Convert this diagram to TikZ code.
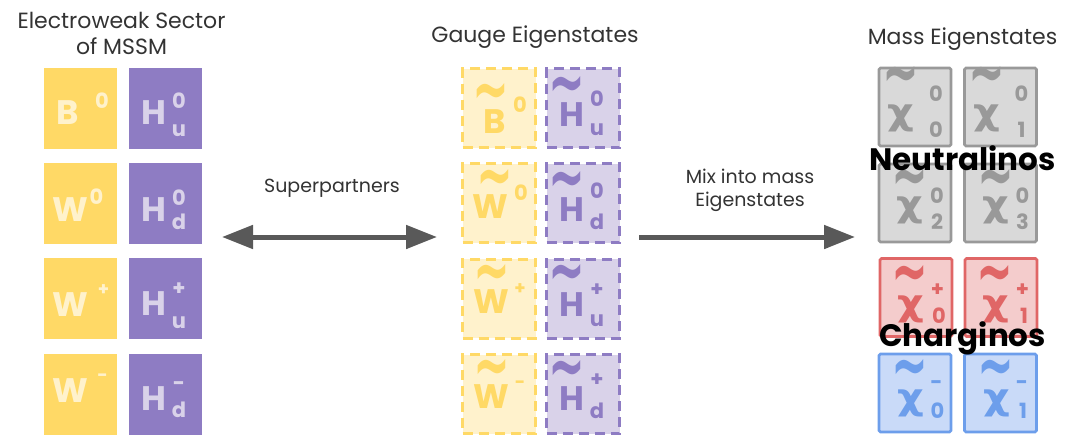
\documentclass[tikz,border=0pt]{standalone}
\usepackage{graphicx}
\usepackage{fontspec}
\setmainfont{Poppins}
\newfontfamily\greekfont{DejaVu Sans}
\usetikzlibrary{arrows.meta}

\definecolor{ylw}{HTML}{FFD966}
\definecolor{ylwL}{HTML}{FFF2CC}
\definecolor{pur}{HTML}{8E7CC3}
\definecolor{purL}{HTML}{D9D2E9}
\definecolor{gry}{HTML}{999999}
\definecolor{gryL}{HTML}{D9D9D9}
\definecolor{rd}{HTML}{E06666}
\definecolor{rdL}{HTML}{F4CCCC}
\definecolor{bl}{HTML}{6D9EEB}
\definecolor{blL}{HTML}{C9DAF8}
\definecolor{ink}{HTML}{333333}
\definecolor{arrowgrey}{HTML}{595959}

% glyph node placed relative to the centre of a box node
\newcommand\gl[5]{\node[#1] (#2) at ([shift={#3}]#4.center) {#5};}
% the wave sign set over a symbol, stretched upwards
\newcommand\wave{\scalebox{1}[1.7]{\char"7E}}
% a wide chi
\newcommand\wchi{\scalebox{1.15}[1]{χ}}

\tikzset{bigtip/.tip={Triangle[length=31pt,width=23pt]}}

\begin{document}
\begin{tikzpicture}[x=1pt,y=-1pt,
  solidbox/.style={minimum width=73pt, minimum height=81pt, inner sep=0pt, outer sep=0pt},
  sY/.style={solidbox, fill=ylw},
  sP/.style={solidbox, fill=pur},
  gauge/.style={minimum width=73pt, minimum height=79pt, inner sep=0pt, line width=3pt,
                dash pattern=on 10pt off 6pt},
  gY/.style={gauge, fill=ylwL, draw=ylw},
  gP/.style={gauge, fill=purL, draw=pur},
  mass/.style={minimum width=72pt, minimum height=78pt, inner sep=0pt, line width=2.6pt,
               rounded corners=1.5pt},
  mG/.style={mass, fill=gryL, draw=gry},
  mR/.style={mass, fill=rdL, draw=rd},
  mB/.style={mass, fill=blL, draw=bl},
  big/.style={font=\fontsize{34}{34}\selectfont\bfseries, inner sep=0pt},
  scr/.style={font=\fontsize{21}{21}\selectfont\bfseries, inner sep=0pt},
  tiny/.style={font=\fontsize{18}{18}\selectfont\bfseries, inner sep=0pt},
  tld/.style={font=\greekfont\fontsize{44}{44}\selectfont\bfseries, inner sep=0pt},
  chi/.style={font=\greekfont\fontsize{36}{36}\selectfont\bfseries, inner sep=0pt},
  title/.style={font=\fontsize{22}{26}\selectfont, text=ink, align=center, inner sep=0pt},
  caption/.style={font=\fontsize{19}{23}\selectfont, text=ink, align=center, inner sep=0pt},
  group/.style={font=\fontsize{31}{31}\selectfont\bfseries, text=black, inner sep=0pt},
  conn/.style={line width=5pt, draw=arrowgrey}
]
\useasboundingbox (0,0) rectangle (1067,444);

% ---------- titles ----------
\node[title] (tEW) at (121.5,33) {Electroweak Sector\\of MSSM};
\node[title, anchor=base] (tGauge) at (535,42) {Gauge Eigenstates};
\node[title, anchor=base] (tMass) at (962.5,45) {Mass Eigenstates};

% ---------- electroweak sector (solid boxes) ----------
\node[sY] (lB)  at (80.5,108.5) {};
\node[sY] (lW0) at (80.5,203.5) {};
\node[sY] (lWp) at (80.5,298.5) {};
\node[sY] (lWm) at (80.5,394) {};
\node[sP] (lHu0) at (165,108.5) {};
\node[sP] (lHd0) at (165,203.5) {};
\node[sP] (lHup) at (165,298.5) {};
\node[sP] (lHdm) at (165,394) {};

\tikzset{ty/.style={text=ylwL}, tp/.style={text=purL}}
\gl{big,ty}{lB-m}{(-12.5,4.5)}{lB}{B}
\gl{scr,ty}{lB-s}{(21.5,-7.5)}{lB}{0}
\gl{big,ty}{lW0-m}{(-10.5,6)}{lW0}{W}
\gl{scr,ty}{lW0-s}{(16,-7)}{lW0}{0}
\gl{big,ty}{lWp-m}{(-10.5,6)}{lWp}{W}
\gl{tiny,ty}{lWp-s}{(23,-8.5)}{lWp}{+}
\gl{big,ty}{lWm-m}{(-10.5,-3)}{lWm}{W}
\gl{tiny,ty}{lWm-s}{(22,-16)}{lWm}{-}

\gl{big,tp}{lHu0-m}{(-11,4)}{lHu0}{H}
\gl{scr,tp}{lHu0-s}{(14,-7.5)}{lHu0}{0}
\gl{scr,tp}{lHu0-b}{(14,22.5)}{lHu0}{u}
\gl{big,tp}{lHd0-m}{(-11,6)}{lHd0}{H}
\gl{scr,tp}{lHd0-s}{(14,-6)}{lHd0}{0}
\gl{scr,tp}{lHd0-b}{(14,18)}{lHd0}{d}
\gl{big,tp}{lHup-m}{(-11,5.5)}{lHup}{H}
\gl{scr,tp}{lHup-s}{(14,-9)}{lHup}{+}
\gl{scr,tp}{lHup-b}{(14,24)}{lHup}{u}
\gl{big,tp}{lHdm-m}{(-11,5)}{lHdm}{H}
\gl{scr,tp}{lHdm-s}{(14,-8)}{lHdm}{-}
\gl{scr,tp}{lHdm-b}{(14,16)}{lHdm}{d}

% ---------- gauge eigenstates (dashed boxes) ----------
\node[gY] (gB)  at (499,108) {};
\node[gY] (gW0) at (499,203) {};
\node[gY] (gWp) at (499,298.5) {};
\node[gY] (gWm) at (499,394) {};
\node[gP] (gHu0) at (583,108) {};
\node[gP] (gHd0) at (583,203) {};
\node[gP] (gHup) at (583,298.5) {};
\node[gP] (gHdp) at (583,394) {};

\tikzset{gy/.style={text=ylw}, gp/.style={text=pur}}
\gl{tld,gy}{gB-t}{(-8,-9)}{gB}{\wave}
\gl{big,gy}{gB-m}{(-4,14)}{gB}{B}
\gl{scr,gy}{gB-s}{(21,-3)}{gB}{0}
\gl{tld,gy}{gW0-t}{(-4,-18)}{gW0}{\wave}
\gl{big,gy}{gW0-m}{(-9,4)}{gW0}{W}
\gl{scr,gy}{gW0-s}{(22,-10)}{gW0}{0}
\gl{tld,gy}{gWp-t}{(-7,-18.5)}{gWp}{\wave}
\gl{big,gy}{gWp-m}{(-8,3)}{gWp}{W}
\gl{tiny,gy}{gWp-s}{(21,-9.5)}{gWp}{+}
\gl{tld,gy}{gWm-t}{(-7,-19)}{gWm}{\wave}
\gl{big,gy}{gWm-m}{(-8,3)}{gWm}{W}
\gl{tiny,gy}{gWm-s}{(21,-9)}{gWm}{-}

\gl{tld,gp}{gHu0-t}{(-16,-16)}{gHu0}{\wave}
\gl{big,gp}{gHu0-m}{(-11.5,7)}{gHu0}{H}
\gl{scr,gp}{gHu0-s}{(14,-9.5)}{gHu0}{0}
\gl{scr,gp}{gHu0-b}{(14,22)}{gHu0}{u}
\gl{tld,gp}{gHd0-t}{(-16,-16)}{gHd0}{\wave}
\gl{big,gp}{gHd0-m}{(-11.5,7)}{gHd0}{H}
\gl{scr,gp}{gHd0-s}{(14,-12.5)}{gHd0}{0}
\gl{scr,gp}{gHd0-b}{(14,18.5)}{gHd0}{d}
\gl{tld,gp}{gHup-t}{(-16,-18.5)}{gHup}{\wave}
\gl{big,gp}{gHup-m}{(-11.5,6.5)}{gHup}{H}
\gl{scr,gp}{gHup-s}{(14,-8.5)}{gHup}{+}
\gl{scr,gp}{gHup-b}{(14,22.5)}{gHup}{u}
\gl{tld,gp}{gHdp-t}{(-16,-18)}{gHdp}{\wave}
\gl{big,gp}{gHdp-m}{(-11.5,5)}{gHdp}{H}
\gl{scr,gp}{gHdp-s}{(14,-14)}{gHdp}{+}
\gl{scr,gp}{gHdp-b}{(14,17)}{gHdp}{d}

% ---------- mass eigenstates ----------
\node[mG] (n0) at (915,107) {};
\node[mG] (n1) at (1000.5,107) {};
\node[mG] (n2) at (915,203) {};
\node[mG] (n3) at (1000.5,203) {};
\node[mR] (cp0) at (916,297.5) {};
\node[mR] (cp1) at (1001,297.5) {};
\node[mB] (cm0) at (915,393) {};
\node[mB] (cm1) at (1000.5,393) {};

\tikzset{mg/.style={text=gry}, mr/.style={text=rd}, mb/.style={text=bl}}
% neutralinos
\foreach \b/\k in {n0/0, n1/1}{
  \gl{tld,mg}{\b-t}{(-14,-25)}{\b}{\wave}
  \gl{chi,mg}{\b-m}{(-14,11)}{\b}{\wchi}
  \gl{scr,mg}{\b-s}{(21,-13)}{\b}{0}
  \gl{scr,mg}{\b-b}{(21,22.5)}{\b}{\k}
}
\foreach \b/\k in {n2/2, n3/3}{
  \gl{tld,mg}{\b-t}{(-5,-18)}{\b}{\wave}
  \gl{chi,mg}{\b-m}{(-5,7)}{\b}{\wchi}
  \gl{scr,mg}{\b-s}{(22,-7)}{\b}{0}
  \gl{scr,mg}{\b-b}{(22,19)}{\b}{\k}
}
% charginos
\foreach \b/\k in {cp0/0, cp1/1}{
  \gl{tld,mr}{\b-t}{(-6,-16.5)}{\b}{\wave}
  \gl{chi,mr}{\b-m}{(-5,11.5)}{\b}{\wchi}
  \gl{scr,mr}{\b-s}{(21.5,-7.5)}{\b}{+}
  \gl{scr,mr}{\b-b}{(23,18)}{\b}{\k}
}
\foreach \b/\k in {cm0/0, cm1/1}{
  \gl{tld,mb}{\b-t}{(-5,-18)}{\b}{\wave}
  \gl{chi,mb}{\b-m}{(-4,10)}{\b}{\wchi}
  \gl{scr,mb}{\b-s}{(21.5,-8)}{\b}{-}
  \gl{scr,mb}{\b-b}{(22.5,18)}{\b}{\k}
}

\node[group] (neu) at (962.5,158) {Neutralinos};
\node[group] (cha) at (962.5,338) {Charginos};

% ---------- connectors ----------
\coordinate (spL) at (222,237);
\coordinate (spR) at (437,237);
\coordinate (mxL) at (639,237);
\coordinate (mxR) at (855,237);
\draw[conn, bigtip-bigtip] (spL) -- (spR);
\draw[conn, -bigtip] (mxL) -- (mxR);
\node[caption] (lblSP) at (332,188) {Superpartners};
\node[caption] (lblMix) at (750,190) {Mix into mass\\Eigenstates};
\end{tikzpicture}
\end{document}
